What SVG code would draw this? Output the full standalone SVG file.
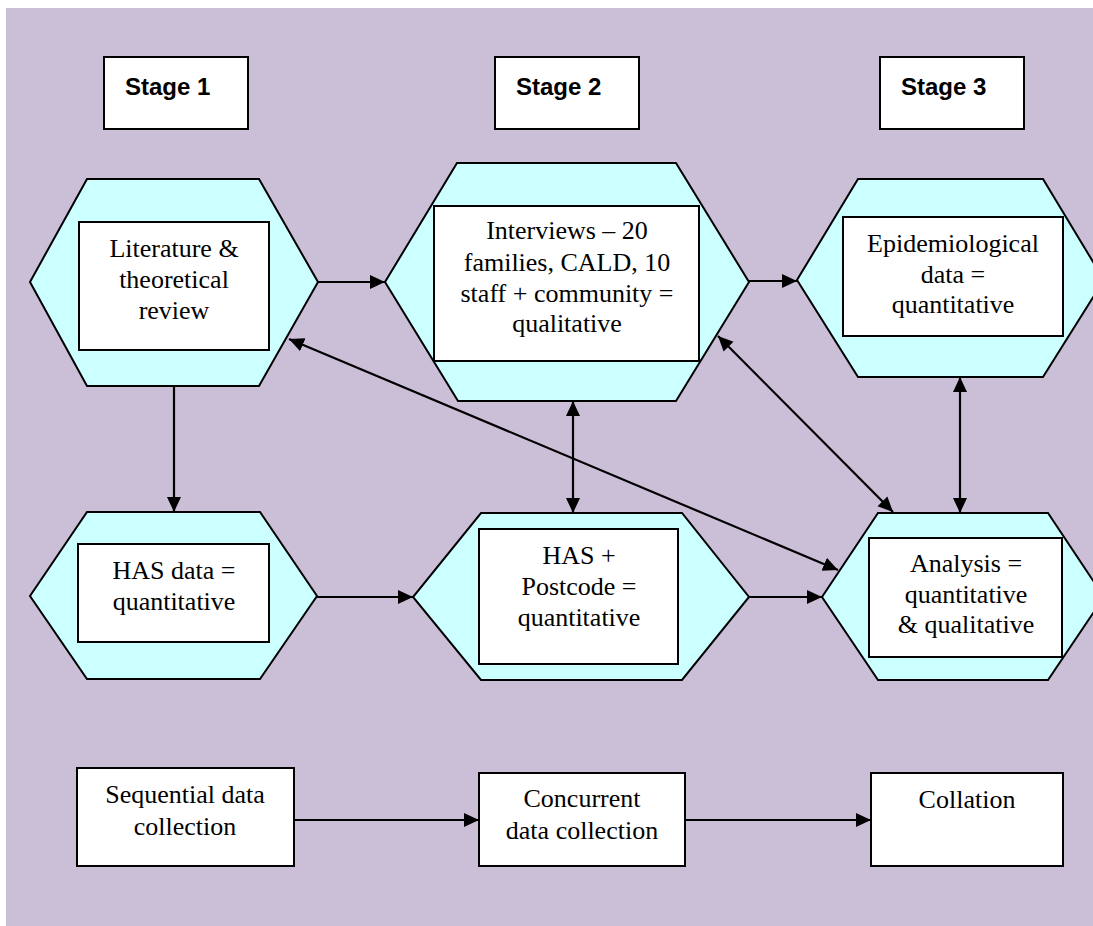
<svg xmlns="http://www.w3.org/2000/svg" width="1093" height="926" viewBox="0 0 1093 926">
<style>
.hex{fill:#CCFFFF;stroke:#000;stroke-width:2}
.box{fill:#fff;stroke:#000;stroke-width:2}
.t{font-family:"Liberation Serif","Times New Roman",serif;font-size:26px;fill:#000;text-anchor:middle}
.st{font-family:"Liberation Sans",Arial,sans-serif;font-size:24px;font-weight:bold;fill:#000}
.c{fill:none;stroke:#000;stroke-width:2.2}
</style>
<defs>
<marker id="ah" markerUnits="userSpaceOnUse" markerWidth="16" markerHeight="16" refX="15" refY="7" orient="auto-start-reverse" viewBox="0 0 16 14">
<path d="M0,0 L15,7 L0,14 z" fill="#000"/>
</marker>
</defs>
<rect x="6" y="8" width="1087" height="918" fill="#CBBFD8"/>

<g id="stage1"><rect class="box" x="104" y="57" width="144" height="72"/><text class="st" x="125" y="95">Stage 1</text></g>
<g id="stage2"><rect class="box" x="495" y="57" width="144" height="72"/><text class="st" x="516" y="95">Stage 2</text></g>
<g id="stage3"><rect class="box" x="880" y="57" width="144" height="72"/><text class="st" x="901" y="95">Stage 3</text></g>

<g id="literature">
<polygon class="hex" points="87,179 259,179 318,282 259,386 87,386 30,282"/>
<rect class="box" x="79" y="222" width="190" height="128"/>
<text class="t" x="174" y="257">Literature &amp;</text>
<text class="t" x="174" y="288">theoretical</text>
<text class="t" x="174" y="319">review</text>
</g>

<g id="interviews">
<polygon class="hex" points="457,163 676,163 749,282 676,401 458,401 385,282"/>
<rect class="box" x="434" y="206" width="265" height="155"/>
<text class="t" x="567" y="239">Interviews – 20</text>
<text class="t" x="567" y="271">families, CALD, 10</text>
<text class="t" x="567" y="302">staff + community =</text>
<text class="t" x="567" y="332">qualitative</text>
</g>

<g id="epidemiological">
<polygon class="hex" points="858,179 1043,179 1104,280 1043,377 858,377 797,280"/>
<rect class="box" x="843" y="217" width="220" height="119"/>
<text class="t" x="953" y="252">Epidemiological</text>
<text class="t" x="953" y="283">data =</text>
<text class="t" x="953" y="313">quantitative</text>
</g>

<g id="has">
<polygon class="hex" points="87,512 260,512 317,596 260,679 87,679 30,596"/>
<rect class="box" x="78" y="544" width="191" height="98"/>
<text class="t" x="174" y="579">HAS data =</text>
<text class="t" x="174" y="610">quantitative</text>
</g>

<g id="haspostcode">
<polygon class="hex" points="481,513 682,513 749,597 682,680 481,680 413,597"/>
<rect class="box" x="479" y="529" width="199" height="135"/>
<text class="t" x="579" y="564">HAS +</text>
<text class="t" x="579" y="595">Postcode =</text>
<text class="t" x="579" y="626">quantitative</text>
</g>

<g id="analysis">
<polygon class="hex" points="878,513 1048,513 1104,597 1048,680 878,680 822,597"/>
<rect class="box" x="869" y="538" width="193" height="119"/>
<text class="t" x="966" y="572">Analysis =</text>
<text class="t" x="966" y="603">quantitative</text>
<text class="t" x="966" y="633">&amp; qualitative</text>
</g>

<g id="sequential">
<rect class="box" x="77" y="768" width="217" height="98"/>
<text class="t" x="185" y="803">Sequential data</text>
<text class="t" x="185" y="835">collection</text>
</g>
<g id="concurrent">
<rect class="box" x="479" y="773" width="206" height="93"/>
<text class="t" x="582" y="807">Concurrent</text>
<text class="t" x="582" y="839">data collection</text>
</g>
<g id="collation">
<rect class="box" x="871" y="773" width="192" height="93"/>
<text class="t" x="967" y="808">Collation</text>
</g>

<g id="connectors">
<line class="c" x1="318" y1="282" x2="385" y2="282" marker-end="url(#ah)"/>
<line class="c" x1="749" y1="281" x2="797" y2="281" marker-end="url(#ah)"/>
<line class="c" x1="174" y1="386" x2="174" y2="512" marker-end="url(#ah)"/>
<line class="c" x1="317" y1="597" x2="413" y2="597" marker-end="url(#ah)"/>
<line class="c" x1="749" y1="597" x2="822" y2="597" marker-end="url(#ah)"/>
<line class="c" x1="573" y1="401" x2="573" y2="513" marker-start="url(#ah)" marker-end="url(#ah)"/>
<line class="c" x1="960" y1="377" x2="960" y2="513" marker-start="url(#ah)" marker-end="url(#ah)"/>
<line class="c" x1="289" y1="339" x2="838" y2="570" marker-start="url(#ah)" marker-end="url(#ah)"/>
<line class="c" x1="718" y1="336" x2="893" y2="512" marker-start="url(#ah)" marker-end="url(#ah)"/>
<line class="c" x1="294" y1="820" x2="479" y2="820" marker-end="url(#ah)"/>
<line class="c" x1="685" y1="820" x2="871" y2="820" marker-end="url(#ah)"/>
</g>
</svg>
